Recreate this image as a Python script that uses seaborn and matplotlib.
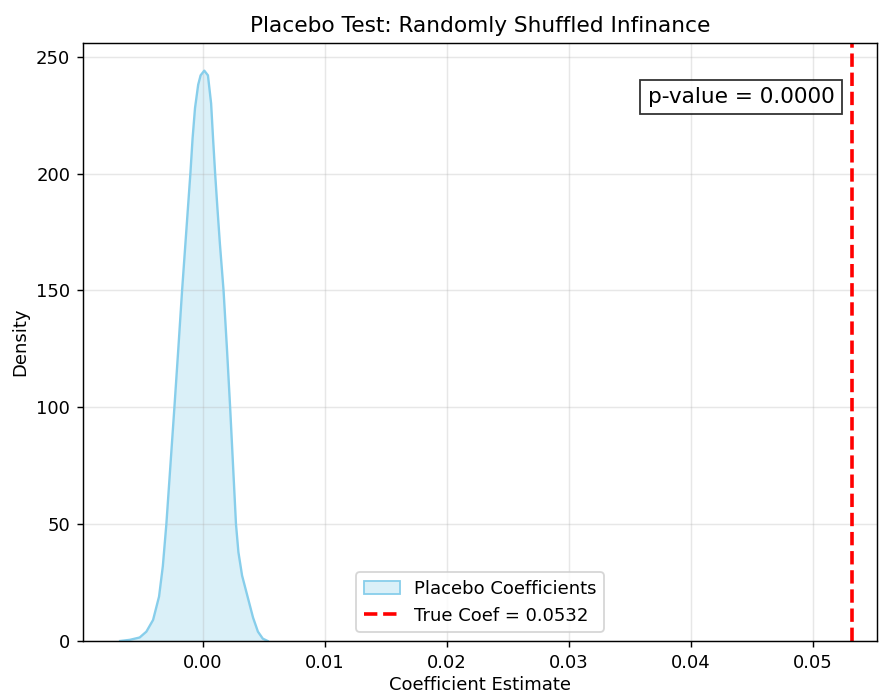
import matplotlib
matplotlib.use("Agg")
import matplotlib.pyplot as plt
import seaborn as sns
import pandas as pd
from matplotlib.patches import Patch
from matplotlib.lines import Line2D

# Density curve of placebo coefficients
coef_x = [-0.0068, -0.0060, -0.0052, -0.00465, -0.0041, -0.00361, -0.0033,
          -0.00301, -0.00268, -0.00235, -0.00203, -0.00172, -0.00138,
          -0.00104, -0.00086, -0.00066, -0.0004, -0.0002, 0.0001,
          0.0004, 0.00066, 0.00082, 0.00099, 0.00118, 0.00138, 0.00168,
          0.00196, 0.00222, 0.00246, 0.0027, 0.0029, 0.0032, 0.0037,
          0.0041, 0.0045, 0.0049, 0.0053]
density = [0.0, 0.5, 1.5, 4.0, 9.0, 19.0, 32.0,
           50.0, 75.0, 100.0, 125.0, 150.0, 175.0,
           200.0, 215.0, 228.0, 238.0, 242.0, 244.0,
           242.0, 230.0, 215.0, 200.0, 185.0, 170.0, 150.0,
           125.0, 100.0, 75.0, 50.0, 38.0, 28.0, 18.0,
           10.0, 4.0, 1.0, 0.0]
true_coef = 0.0532
p_value = 0.0

df = pd.DataFrame({"coef": coef_x, "density": density})

fig = plt.figure(figsize=(879 / 130, 695 / 130), dpi=130)
ax = fig.add_axes([0.0944, 0.0777, 0.9036, 0.8603])

ax.fill_between(df["coef"], df["density"], color="skyblue", alpha=0.3, lw=0)
sns.lineplot(data=df, x="coef", y="density", color="skyblue", lw=1.3, ax=ax)
ax.axvline(true_coef, color="red", linestyle="--", linewidth=2)

handles = [
    Patch(facecolor=(0.529, 0.808, 0.922, 0.3), edgecolor="skyblue",
          label="Placebo Coefficients"),
    Line2D([0], [0], color="red", linestyle="--", linewidth=2,
           label=f"True Coef = {true_coef:.4f}"),
]
ax.legend(handles=handles, loc="lower center", fontsize=10)

ax.text(0.946, 0.927, f"p-value = {p_value:.4f}", transform=ax.transAxes,
        ha="right", va="top", fontsize=12,
        bbox=dict(facecolor="white", edgecolor="black", alpha=0.8))

ax.set_xlim(-0.00985, 0.0553)
ax.set_ylim(0, 255.8)
ax.set_xticks([0.0, 0.01, 0.02, 0.03, 0.04, 0.05])
ax.set_xticklabels(["0.00", "0.01", "0.02", "0.03", "0.04", "0.05"])
ax.set_yticks([0, 50, 100, 150, 200, 250])
ax.grid(True, alpha=0.3)
ax.set_title("Placebo Test: Randomly Shuffled Infinance", fontsize=12)
ax.set_xlabel("Coefficient Estimate", fontsize=10, labelpad=2.5)
ax.set_ylabel("Density", fontsize=10)

fig.savefig("out.png", dpi=130)
